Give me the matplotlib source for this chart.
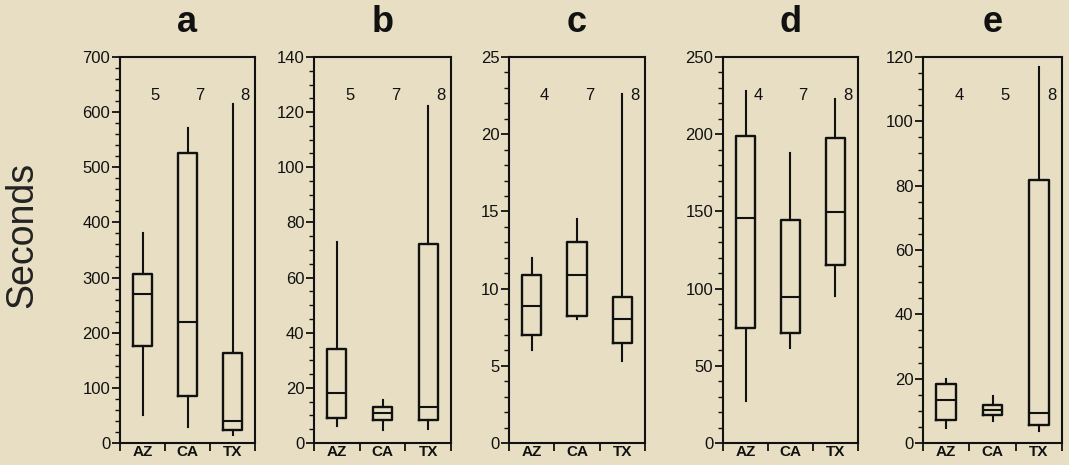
import matplotlib
matplotlib.use("Agg")
import matplotlib.pyplot as plt
from matplotlib.ticker import MultipleLocator, FixedLocator, NullFormatter

plt.rcParams['font.family'] = ['Liberation Sans', 'DejaVu Sans']

BG = '#e7dec3'
INK = '#111111'

states = ['AZ', 'CA', 'TX']
panels = ['a', 'b', 'c', 'd', 'e']

# per panel: [whislo, q1, median, q3, whishi] for AZ, CA, TX
stats_a = [[51, 176, 270, 307, 380], [29, 86, 220, 525, 571], [15, 24, 39, 164, 614]]
stats_b = [[6, 9, 18, 34, 73], [4.8, 8.2, 11, 12.9, 15.7], [5.2, 8.2, 12.9, 72, 122.4]]
stats_c = [[6.0, 7.0, 8.9, 10.9, 12.0], [8.0, 8.2, 10.9, 13.0, 14.5], [5.3, 6.45, 8.0, 9.45, 22.6]]
stats_d = [[27.5, 74.7, 145.7, 198.8, 228], [61.3, 71, 94.7, 144.6, 188], [95.1, 115.5, 149.5, 197.3, 222.7]]
stats_e = [[4.7, 7.2, 13.4, 18.4, 19.9], [6.7, 8.8, 10.3, 11.8, 14.7], [3.6, 5.6, 9.3, 81.7, 117]]
all_stats = [stats_a, stats_b, stats_c, stats_d, stats_e]

counts = [[5, 7, 8], [5, 7, 8], [4, 7, 8], [4, 7, 8], [4, 5, 8]]
ymax = [700, 140, 25, 250, 120]
ymajor = [100, 20, 5, 50, 20]
yminor = [20, 5, 1, 10, 5]

# axes extents in pixels (left, right), shared top/bottom
W, H = 1069, 465
xpix = [(120, 255), (314, 451), (509, 645), (723, 858), (923, 1062)]
top, bottom = 57, 443

fig = plt.figure(figsize=(W / 100, H / 100), dpi=100, facecolor=BG)

for i in range(5):
    l, r = xpix[i]
    ax = fig.add_axes([l / W, (H - bottom) / H, (r - l) / W, (bottom - top) / H])
    ax.set_facecolor(BG)

    bstats = []
    for s in all_stats[i]:
        bstats.append({'whislo': s[0], 'q1': s[1], 'med': s[2], 'q3': s[3], 'whishi': s[4]})
    ax.bxp(bstats, positions=[1, 2, 3], widths=0.42, showcaps=False, showfliers=False,
           boxprops=dict(color=INK, linewidth=1.7),
           whiskerprops=dict(color=INK, linewidth=1.5),
           medianprops=dict(color=INK, linewidth=1.5))

    ax.set_xlim(0.5, 3.5)
    ax.set_ylim(0, ymax[i])

    for j, n in enumerate(counts[i]):
        ax.text(j + 1 + 0.28, 0.9, str(n), transform=ax.get_xaxis_transform(),
                ha='center', va='center', fontsize=12, color=INK)

    # x ticks: separators at boundaries, labels centred
    ax.xaxis.set_major_locator(FixedLocator([0.5, 1.5, 2.5, 3.5]))
    ax.xaxis.set_major_formatter(NullFormatter())
    ax.xaxis.set_minor_locator(FixedLocator([1, 2, 3]))
    ax.set_xticklabels(states, minor=True, fontweight='bold', fontsize=11)
    ax.tick_params(axis='x', which='major', direction='out', length=6, width=1.3, color=INK)
    ax.tick_params(axis='x', which='minor', length=0, pad=1.5, labelcolor=INK)

    ax.yaxis.set_major_locator(MultipleLocator(ymajor[i]))
    ax.yaxis.set_minor_locator(MultipleLocator(yminor[i]))
    ax.tick_params(axis='y', which='major', direction='out', length=6, width=1.3,
                   labelsize=12, pad=1, color=INK, labelcolor=INK)
    ax.tick_params(axis='y', which='minor', direction='out', length=3.5, width=1.0, color=INK)

    for sp in ax.spines.values():
        sp.set_color(INK)
        sp.set_linewidth(1.5)

    ax.set_title(panels[i], fontsize=26, fontweight='bold', pad=18, color=INK)

fig.text(22 / W, 1 - 235 / H, 'Seconds', rotation=90, ha='center', va='center',
         fontsize=27, color='#222222')

plt.savefig('out.png', dpi=100, facecolor=BG)
